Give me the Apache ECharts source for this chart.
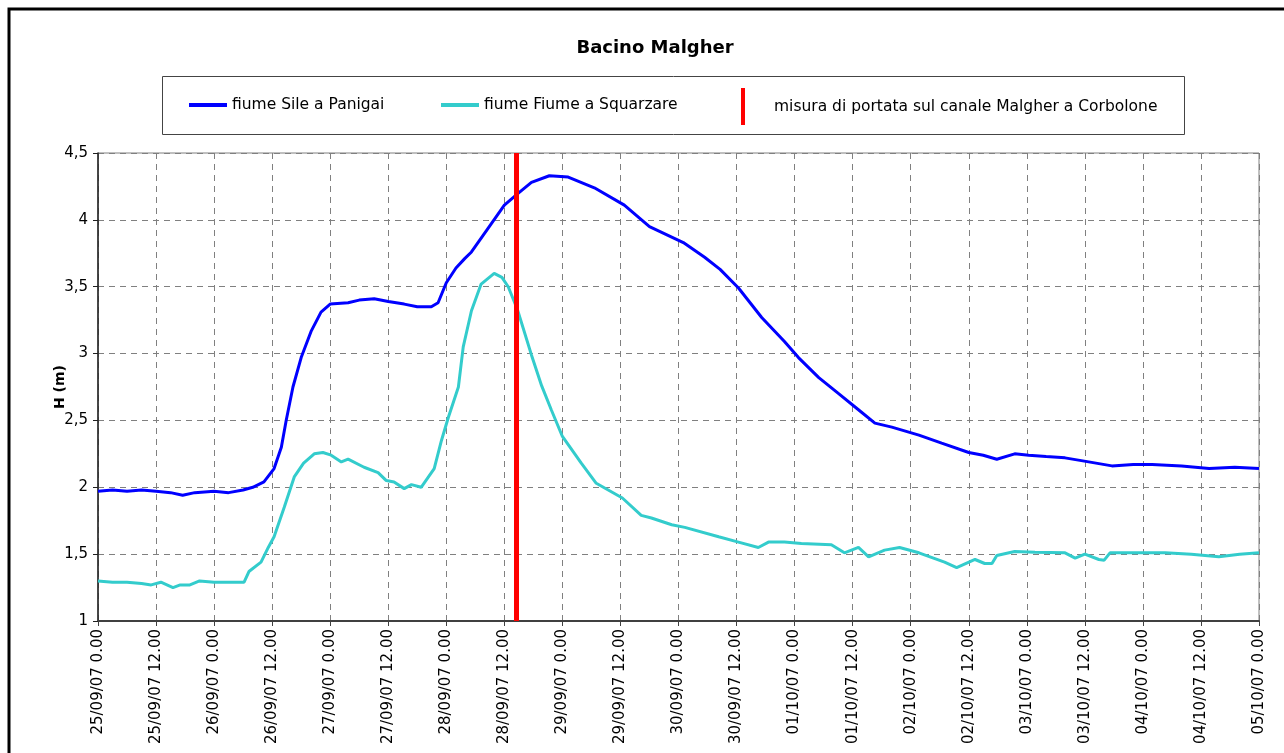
<!DOCTYPE html>
<html>
<head>
<meta charset="utf-8">
<title>Bacino Malgher</title>
<script src="https://cdn.jsdelivr.net/npm/echarts@6/dist/echarts.min.js"></script>
<style>
  html, body { margin: 0; padding: 0; background: #fff; }
  #chart { width: 1284px; height: 753px; }
</style>
</head>
<body>
<div id="chart"></div>
<script>
// hours counted from 25/09/07 0.00
const sileHours = [0, 3, 6, 9, 12, 15, 17.5, 20, 24, 27, 30, 32, 34.3, 36.4, 37.9, 38.9, 40.3, 42, 44.1, 46.1,
  48, 51.7, 54, 57.1, 60, 63.3, 66, 68.9, 70.3, 72, 74, 75.8, 77.2, 80.7, 84, 86.9, 89.6, 93.3, 97.2, 102.6,
  108.8, 114, 121, 125.4, 128.6, 132.4, 137.2, 141.9, 144.8, 149, 153.1, 157.2, 160.6, 164.1, 169.7, 174.4,
  180, 183, 185.8, 189.5, 192.4, 196, 199.9, 204.8, 209.6, 214, 217.9, 224, 229.7, 235, 240]
const sileLevels = [1.97, 1.98, 1.97, 1.98, 1.97, 1.96, 1.94, 1.96, 1.97, 1.96, 1.98, 2.00, 2.04, 2.14, 2.30, 2.50, 2.75, 2.97, 3.17, 3.31,
  3.37, 3.38, 3.40, 3.41, 3.39, 3.37, 3.35, 3.35, 3.38, 3.53, 3.64, 3.71, 3.76, 3.94, 4.11, 4.20, 4.28, 4.33, 4.32, 4.24,
  4.11, 3.95, 3.83, 3.72, 3.63, 3.49, 3.27, 3.09, 2.97, 2.82, 2.70, 2.58, 2.48, 2.45, 2.39, 2.33,
  2.26, 2.24, 2.21, 2.25, 2.24, 2.23, 2.22, 2.19, 2.16, 2.17, 2.17, 2.16, 2.14, 2.15, 2.14]

const fiumeHours = [0, 3, 6, 9, 11, 13, 15.5, 17, 19, 21, 24, 27, 30.2, 31.2, 33.7, 35.2, 36.4, 38.5, 40.6, 42.5,
  44.7, 46.5, 48.2, 50.3, 51.7, 55, 57.9, 59.6, 61.2, 63.3, 64.8, 66.8, 69.5, 71, 72.4, 74.5, 75.5, 77.2, 79.2, 81.9,
  83.5, 84.8, 86.7, 89.6, 91.7, 93.7, 96, 99.9, 103, 108.4, 112.3, 114.4, 118.6, 121.3, 128.3, 132.4, 136.5, 138.6,
  141.9, 145.4, 151.6, 154.3, 157.2, 159.3, 162.6, 165.7, 169.7, 175, 177.5, 181.3, 183.3, 184.8, 185.8, 189.5,
  193.7, 199.9, 202, 204, 206.9, 208, 209.2, 211.7, 220.6, 226, 231.7, 236, 240]
const fiumeLevels = [1.30, 1.29, 1.29, 1.28, 1.27, 1.29, 1.25, 1.27, 1.27, 1.30, 1.29, 1.29, 1.29, 1.37, 1.44, 1.55, 1.63, 1.85, 2.08, 2.18,
  2.25, 2.26, 2.24, 2.19, 2.21, 2.15, 2.11, 2.05, 2.04, 1.99, 2.02, 2.00, 2.14, 2.35, 2.52, 2.75, 3.05, 3.32, 3.52, 3.60,
  3.57, 3.50, 3.33, 2.99, 2.76, 2.58, 2.38, 2.18, 2.03, 1.92, 1.79, 1.77, 1.72, 1.70, 1.63, 1.59, 1.55, 1.59,
  1.59, 1.58, 1.57, 1.51, 1.55, 1.48, 1.53, 1.55, 1.51, 1.44, 1.40, 1.46, 1.43, 1.43, 1.49, 1.52,
  1.515, 1.51, 1.47, 1.50, 1.46, 1.455, 1.51, 1.51, 1.51, 1.50, 1.48, 1.50, 1.51]

// measurement on canale Malgher (28/09/07 ~14.25)
const measureHour = 86.4

const seriesNames = ['fiume Sile a Panigai', 'fiume Fiume a Squarzare', 'misura di portata sul canale Malgher a Corbolone']

const startDate = Date.UTC(2007, 8, 25)
const pad = n => (n < 10 ? '0' : '') + n
function hourLabel(h) {
  const d = new Date(startDate + h * 3600000)
  return pad(d.getUTCDate()) + '/' + pad(d.getUTCMonth() + 1) + '/' + pad(d.getUTCFullYear() % 100) +
    ' ' + d.getUTCHours() + '.' + pad(d.getUTCMinutes())
}
const zip = (xs, ys) => xs.map((x, i) => [x, ys[i]])

const font = 'DejaVu Sans, Verdana, sans-serif'
const legendText = { fontSize: 15.5, color: '#000', fontFamily: font }
const chart = echarts.init(document.getElementById('chart'))
chart.setOption({
  animation: false,
  textStyle: { fontFamily: font },
  title: {
    text: 'Bacino Malgher',
    left: 650,
    textAlign: 'center',
    top: 34,
    textStyle: { fontSize: 18, fontWeight: 'bold', color: '#000', fontFamily: font }
  },
  graphic: [
    { type: 'rect', shape: { x: 9, y: 9, width: 1400, height: 900 }, style: { fill: 'none', stroke: '#000', lineWidth: 3 }, silent: true },
    { type: 'rect', shape: { x: 162.5, y: 76.5, width: 1022, height: 58 }, style: { fill: 'none', stroke: '#444', lineWidth: 1 }, silent: true }
  ],
  legend: [
    {
      data: [{ name: seriesNames[0], icon: 'rect' }],
      left: 189, top: 97, padding: 0,
      itemWidth: 38, itemHeight: 4,
      textStyle: legendText
    },
    {
      data: [{ name: seriesNames[1], icon: 'rect' }],
      left: 441, top: 97, padding: 0,
      itemWidth: 38, itemHeight: 4,
      textStyle: legendText
    },
    {
      data: [{ name: seriesNames[2], icon: 'rect' }],
      left: 741, top: 88, padding: 0,
      itemWidth: 4, itemHeight: 37,
      formatter: name => '{g|}' + name,
      textStyle: Object.assign({ rich: { g: { width: 24 } } }, legendText)
    }
  ],
  grid: {
    left: 98, top: 153, right: 25, bottom: 132,
    show: true, borderColor: '#808080', borderWidth: 1
  },
  xAxis: {
    type: 'value',
    min: 0, max: 240, interval: 12,
    axisLine: { lineStyle: { color: '#404040', width: 2 } },
    axisTick: { length: 5, lineStyle: { color: '#404040' } },
    axisLabel: {
      rotate: 90, margin: 8, fontSize: 15, color: '#000',
      formatter: v => hourLabel(v)
    },
    splitLine: { show: true, lineStyle: { color: '#808080', type: [6, 5], width: 1 } }
  },
  yAxis: {
    type: 'value',
    min: 1, max: 4.5, interval: 0.5,
    name: 'H (m)',
    nameLocation: 'middle',
    nameGap: 31,
    nameMoveOverlap: false,
    nameTextStyle: { fontSize: 14, fontWeight: 'bold', color: '#000', fontFamily: font },
    axisLine: { show: true, lineStyle: { color: '#202020', width: 1.5 } },
    axisTick: { show: true, length: 5, lineStyle: { color: '#202020' } },
    axisLabel: {
      margin: 10, fontSize: 15, color: '#000',
      formatter: v => String(v).replace('.', ',')
    },
    splitLine: { show: true, lineStyle: { color: '#808080', type: [6, 5], width: 1 } }
  },
  series: [
    {
      name: seriesNames[0], type: 'line', data: zip(sileHours, sileLevels),
      showSymbol: false, color: '#0000FF', lineStyle: { width: 3 }, z: 3
    },
    {
      name: seriesNames[1], type: 'line', data: zip(fiumeHours, fiumeLevels),
      showSymbol: false, color: '#33CCCC', lineStyle: { width: 3 }, z: 2
    },
    {
      name: seriesNames[2], type: 'line', data: [],
      color: '#FF0000', z: 4,
      markLine: {
        silent: true, symbol: ['none', 'none'], label: { show: false },
        lineStyle: { color: '#FF0000', width: 5, type: 'solid' },
        data: [{ xAxis: measureHour }]
      }
    }
  ]
})
</script>
</body>
</html>
